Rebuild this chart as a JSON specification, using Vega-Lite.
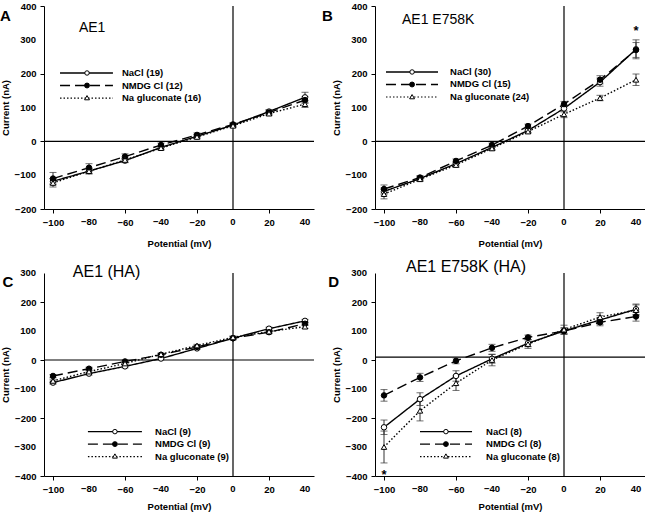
{
  "$schema": "https://vega.github.io/schema/vega-lite/v6.json",
  "autosize": {"type": "none"},
  "padding": {"left": 44, "top": 6, "right": 601, "bottom": 507},
  "config": {
    "font": "Liberation Sans",
    "view": {"stroke": null},
    "axis": {"domainColor": "black", "tickColor": "black", "labelColor": "black", "titleColor": "black", "labelFont": "Liberation Sans", "titleFont": "Liberation Sans", "labelFontSize": 9.5, "titleFontSize": 9.5, "labelFontWeight": "bold", "titleFontWeight": "bold", "grid": false, "tickSize": 4, "labelPadding": 4, "domainWidth": 1, "tickWidth": 1, "labelOverlap": false, "labelSeparation": -60, "labelFlush": false},
    "axisQuantitative": {"labelOverlap": false, "labelSeparation": -60},
    "text": {"color": "black", "font": "Liberation Sans"}
  },
  "datasets": {
    "iv": [
      {"p": "A", "s": "NaCl", "Potential (mV)": -100, "Current (nA)": -118, "e": 8}, {"p": "A", "s": "NaCl", "Potential (mV)": -80, "Current (nA)": -88, "e": 8}, {"p": "A", "s": "NaCl", "Potential (mV)": -60, "Current (nA)": -57, "e": 6}, {"p": "A", "s": "NaCl", "Potential (mV)": -40, "Current (nA)": -18, "e": 5}, {"p": "A", "s": "NaCl", "Potential (mV)": -20, "Current (nA)": 15, "e": 5}, {"p": "A", "s": "NaCl", "Potential (mV)": 0, "Current (nA)": 48, "e": 5}, {"p": "A", "s": "NaCl", "Potential (mV)": 20, "Current (nA)": 88, "e": 6}, {"p": "A", "s": "NaCl", "Potential (mV)": 40, "Current (nA)": 130, "e": 15},
      {"p": "A", "s": "NMDG Cl", "Potential (mV)": -100, "Current (nA)": -110, "e": 18}, {"p": "A", "s": "NMDG Cl", "Potential (mV)": -80, "Current (nA)": -78, "e": 12}, {"p": "A", "s": "NMDG Cl", "Potential (mV)": -60, "Current (nA)": -45, "e": 8}, {"p": "A", "s": "NMDG Cl", "Potential (mV)": -40, "Current (nA)": -11, "e": 6}, {"p": "A", "s": "NMDG Cl", "Potential (mV)": -20, "Current (nA)": 19, "e": 6}, {"p": "A", "s": "NMDG Cl", "Potential (mV)": 0, "Current (nA)": 50, "e": 5}, {"p": "A", "s": "NMDG Cl", "Potential (mV)": 20, "Current (nA)": 85, "e": 6}, {"p": "A", "s": "NMDG Cl", "Potential (mV)": 40, "Current (nA)": 122, "e": 10},
      {"p": "A", "s": "Na gluconate", "Potential (mV)": -100, "Current (nA)": -123, "e": 12}, {"p": "A", "s": "Na gluconate", "Potential (mV)": -80, "Current (nA)": -88, "e": 8}, {"p": "A", "s": "Na gluconate", "Potential (mV)": -60, "Current (nA)": -55, "e": 6}, {"p": "A", "s": "Na gluconate", "Potential (mV)": -40, "Current (nA)": -20, "e": 5}, {"p": "A", "s": "Na gluconate", "Potential (mV)": -20, "Current (nA)": 13, "e": 5}, {"p": "A", "s": "Na gluconate", "Potential (mV)": 0, "Current (nA)": 46, "e": 5}, {"p": "A", "s": "Na gluconate", "Potential (mV)": 20, "Current (nA)": 82, "e": 6}, {"p": "A", "s": "Na gluconate", "Potential (mV)": 40, "Current (nA)": 110, "e": 10},

      {"p": "B", "s": "NaCl", "Potential (mV)": -100, "Current (nA)": -148, "e": 10}, {"p": "B", "s": "NaCl", "Potential (mV)": -80, "Current (nA)": -110, "e": 6}, {"p": "B", "s": "NaCl", "Potential (mV)": -60, "Current (nA)": -66, "e": 6}, {"p": "B", "s": "NaCl", "Potential (mV)": -40, "Current (nA)": -18, "e": 6}, {"p": "B", "s": "NaCl", "Potential (mV)": -20, "Current (nA)": 32, "e": 6}, {"p": "B", "s": "NaCl", "Potential (mV)": 0, "Current (nA)": 97, "e": 10}, {"p": "B", "s": "NaCl", "Potential (mV)": 20, "Current (nA)": 175, "e": 12}, {"p": "B", "s": "NaCl", "Potential (mV)": 40, "Current (nA)": 272, "e": 28},
      {"p": "B", "s": "NMDG Cl", "Potential (mV)": -100, "Current (nA)": -141, "e": 12}, {"p": "B", "s": "NMDG Cl", "Potential (mV)": -80, "Current (nA)": -107, "e": 6}, {"p": "B", "s": "NMDG Cl", "Potential (mV)": -60, "Current (nA)": -58, "e": 6}, {"p": "B", "s": "NMDG Cl", "Potential (mV)": -40, "Current (nA)": -11, "e": 6}, {"p": "B", "s": "NMDG Cl", "Potential (mV)": -20, "Current (nA)": 45, "e": 6}, {"p": "B", "s": "NMDG Cl", "Potential (mV)": 0, "Current (nA)": 110, "e": 8}, {"p": "B", "s": "NMDG Cl", "Potential (mV)": 20, "Current (nA)": 182, "e": 12}, {"p": "B", "s": "NMDG Cl", "Potential (mV)": 40, "Current (nA)": 270, "e": 22},
      {"p": "B", "s": "Na gluconate", "Potential (mV)": -100, "Current (nA)": -156, "e": 14}, {"p": "B", "s": "Na gluconate", "Potential (mV)": -80, "Current (nA)": -112, "e": 6}, {"p": "B", "s": "Na gluconate", "Potential (mV)": -60, "Current (nA)": -70, "e": 6}, {"p": "B", "s": "Na gluconate", "Potential (mV)": -40, "Current (nA)": -21, "e": 6}, {"p": "B", "s": "Na gluconate", "Potential (mV)": -20, "Current (nA)": 29, "e": 5}, {"p": "B", "s": "Na gluconate", "Potential (mV)": 0, "Current (nA)": 80, "e": 10}, {"p": "B", "s": "Na gluconate", "Potential (mV)": 20, "Current (nA)": 128, "e": 8}, {"p": "B", "s": "Na gluconate", "Potential (mV)": 40, "Current (nA)": 182, "e": 17},

      {"p": "C", "s": "NaCl", "Potential (mV)": -100, "Current (nA)": -78, "e": 5}, {"p": "C", "s": "NaCl", "Potential (mV)": -80, "Current (nA)": -47, "e": 5}, {"p": "C", "s": "NaCl", "Potential (mV)": -60, "Current (nA)": -22, "e": 5}, {"p": "C", "s": "NaCl", "Potential (mV)": -40, "Current (nA)": 5, "e": 4}, {"p": "C", "s": "NaCl", "Potential (mV)": -20, "Current (nA)": 40, "e": 4}, {"p": "C", "s": "NaCl", "Potential (mV)": 0, "Current (nA)": 75, "e": 5}, {"p": "C", "s": "NaCl", "Potential (mV)": 20, "Current (nA)": 108, "e": 5}, {"p": "C", "s": "NaCl", "Potential (mV)": 40, "Current (nA)": 135, "e": 5},
      {"p": "C", "s": "NMDG Cl", "Potential (mV)": -100, "Current (nA)": -55, "e": 5}, {"p": "C", "s": "NMDG Cl", "Potential (mV)": -80, "Current (nA)": -30, "e": 5}, {"p": "C", "s": "NMDG Cl", "Potential (mV)": -60, "Current (nA)": -5, "e": 4}, {"p": "C", "s": "NMDG Cl", "Potential (mV)": -40, "Current (nA)": 18, "e": 4}, {"p": "C", "s": "NMDG Cl", "Potential (mV)": -20, "Current (nA)": 45, "e": 4}, {"p": "C", "s": "NMDG Cl", "Potential (mV)": 0, "Current (nA)": 75, "e": 5}, {"p": "C", "s": "NMDG Cl", "Potential (mV)": 20, "Current (nA)": 96, "e": 5}, {"p": "C", "s": "NMDG Cl", "Potential (mV)": 40, "Current (nA)": 125, "e": 5},
      {"p": "C", "s": "Na gluconate", "Potential (mV)": -100, "Current (nA)": -72, "e": 6}, {"p": "C", "s": "Na gluconate", "Potential (mV)": -80, "Current (nA)": -40, "e": 5}, {"p": "C", "s": "Na gluconate", "Potential (mV)": -60, "Current (nA)": -12, "e": 5}, {"p": "C", "s": "Na gluconate", "Potential (mV)": -40, "Current (nA)": 20, "e": 4}, {"p": "C", "s": "Na gluconate", "Potential (mV)": -20, "Current (nA)": 50, "e": 4}, {"p": "C", "s": "Na gluconate", "Potential (mV)": 0, "Current (nA)": 78, "e": 5}, {"p": "C", "s": "Na gluconate", "Potential (mV)": 20, "Current (nA)": 98, "e": 5}, {"p": "C", "s": "Na gluconate", "Potential (mV)": 40, "Current (nA)": 115, "e": 6},

      {"p": "D", "s": "NaCl", "Potential (mV)": -100, "Current (nA)": -232, "e": 25}, {"p": "D", "s": "NaCl", "Potential (mV)": -80, "Current (nA)": -135, "e": 22}, {"p": "D", "s": "NaCl", "Potential (mV)": -60, "Current (nA)": -55, "e": 18}, {"p": "D", "s": "NaCl", "Potential (mV)": -40, "Current (nA)": 4, "e": 15}, {"p": "D", "s": "NaCl", "Potential (mV)": -20, "Current (nA)": 58, "e": 12}, {"p": "D", "s": "NaCl", "Potential (mV)": 0, "Current (nA)": 100, "e": 12}, {"p": "D", "s": "NaCl", "Potential (mV)": 20, "Current (nA)": 138, "e": 15}, {"p": "D", "s": "NaCl", "Potential (mV)": 40, "Current (nA)": 175, "e": 18},
      {"p": "D", "s": "NMDG Cl", "Potential (mV)": -100, "Current (nA)": -122, "e": 20}, {"p": "D", "s": "NMDG Cl", "Potential (mV)": -80, "Current (nA)": -60, "e": 14}, {"p": "D", "s": "NMDG Cl", "Potential (mV)": -60, "Current (nA)": -3, "e": 10}, {"p": "D", "s": "NMDG Cl", "Potential (mV)": -40, "Current (nA)": 42, "e": 12}, {"p": "D", "s": "NMDG Cl", "Potential (mV)": -20, "Current (nA)": 78, "e": 8}, {"p": "D", "s": "NMDG Cl", "Potential (mV)": 0, "Current (nA)": 100, "e": 8}, {"p": "D", "s": "NMDG Cl", "Potential (mV)": 20, "Current (nA)": 130, "e": 12}, {"p": "D", "s": "NMDG Cl", "Potential (mV)": 40, "Current (nA)": 150, "e": 16},
      {"p": "D", "s": "Na gluconate", "Potential (mV)": -100, "Current (nA)": -300, "e": 55}, {"p": "D", "s": "Na gluconate", "Potential (mV)": -80, "Current (nA)": -175, "e": 35}, {"p": "D", "s": "Na gluconate", "Potential (mV)": -60, "Current (nA)": -80, "e": 25}, {"p": "D", "s": "Na gluconate", "Potential (mV)": -40, "Current (nA)": 0, "e": 20}, {"p": "D", "s": "Na gluconate", "Potential (mV)": -20, "Current (nA)": 55, "e": 15}, {"p": "D", "s": "Na gluconate", "Potential (mV)": 0, "Current (nA)": 105, "e": 15}, {"p": "D", "s": "Na gluconate", "Potential (mV)": 20, "Current (nA)": 148, "e": 15}, {"p": "D", "s": "Na gluconate", "Potential (mV)": 40, "Current (nA)": 172, "e": 18}
    ],
    "xticks": [{"Potential (mV)": -80}, {"Potential (mV)": -40}, {"Potential (mV)": 0}, {"Potential (mV)": 40}],
    "yticksTop": [{"Current (nA)": 300}, {"Current (nA)": 100}, {"Current (nA)": -100}],
    "yticksBottom": [{"Current (nA)": 300}, {"Current (nA)": 100}, {"Current (nA)": -100}, {"Current (nA)": -300}]
  },
  "columns": 2,
  "bounds": "flush",
  "spacing": {"column": 61, "row": 64},
  "resolve": {"scale": {"x": "independent", "y": "independent", "strokeDash": "independent", "shape": "independent", "fill": "independent"}},
  "concat": [
    {
      "width": 270, "height": 203,
      "layer": [
        {"data": {"name": "iv"}, "transform": [{"filter": "datum.p == 'A'"}],
         "mark": {"type": "line", "color": "black", "strokeWidth": 1.4},
         "encoding": {
           "x": {"field": "Potential (mV)", "type": "quantitative", "scale": {"domain": [-105, 45], "nice": false, "zero": false}, "axis": {"values": [-100, -80, -60, -40, -20, 0, 20, 40], "titlePadding": 12, "labelOverlap": false, "labelSeparation": -60}},
           "y": {"field": "Current (nA)", "type": "quantitative", "scale": {"domain": [-200, 400], "nice": false, "zero": false}, "axis": {"values": [-200, -100, 0, 100, 200, 300, 400], "titlePadding": 4, "labelOverlap": false, "labelSeparation": -60}},
           "strokeDash": {"field": "s", "type": "nominal", "scale": {"domain": ["NaCl", "NMDG Cl", "Na gluconate"], "range": [[1, 0], [10, 5], [1.5, 2]]}, "legend": null}
         }},
        {"data": {"values": [{}]}, "mark": {"type": "rule", "color": "black", "strokeWidth": 1.2}, "encoding": {"y": {"datum": 0, "type": "quantitative"}}},
        {"data": {"values": [{}]}, "mark": {"type": "rule", "color": "black", "strokeWidth": 1.2}, "encoding": {"x": {"datum": 0, "type": "quantitative"}}},
        {"data": {"name": "iv"}, "transform": [{"filter": "datum.p == 'A'"}],
         "mark": {"type": "errorbar", "color": "#333", "ticks": {"size": 7}},
         "encoding": {"x": {"field": "Potential (mV)", "type": "quantitative"}, "y": {"field": "Current (nA)", "type": "quantitative"}, "yError": {"field": "e"}}},
        {"data": {"name": "iv"}, "transform": [{"filter": "datum.p == 'A'"}],
         "mark": {"type": "point", "filled": true, "stroke": "black", "strokeWidth": 1, "opacity": 1, "size": 30},
         "encoding": {"x": {"field": "Potential (mV)", "type": "quantitative"}, "y": {"field": "Current (nA)", "type": "quantitative"},
           "shape": {"field": "s", "type": "nominal", "scale": {"domain": ["NaCl", "NMDG Cl", "Na gluconate"], "range": ["circle", "circle", "triangle-up"]}, "legend": null},
           "fill": {"field": "s", "type": "nominal", "scale": {"domain": ["NaCl", "NMDG Cl", "Na gluconate"], "range": ["white", "black", "white"]}, "legend": null}}},
        {"data": {"name": "xticks"}, "mark": {"type": "text", "fontSize": 9.5, "fontWeight": "bold", "align": "center", "baseline": "top", "dy": 8}, "encoding": {"x": {"field": "Potential (mV)", "type": "quantitative"}, "y": {"datum": -200}, "text": {"field": "Potential (mV)", "type": "quantitative"}}},
        {"data": {"name": "yticksTop"}, "mark": {"type": "text", "fontSize": 9.5, "fontWeight": "bold", "align": "right", "baseline": "middle", "dx": -8}, "encoding": {"y": {"field": "Current (nA)", "type": "quantitative"}, "x": {"datum": -105}, "text": {"field": "Current (nA)", "type": "quantitative"}}},
        {"data": {"values": [{}]}, "mark": {"type": "rule", "color": "black", "strokeWidth": 1.4}, "encoding": {"x": {"datum": -96.1}, "x2": {"datum": -66.7}, "y": {"datum": 202}}},
        {"data": {"values": [{}]}, "mark": {"type": "rule", "color": "black", "strokeWidth": 1.4, "strokeDash": [10, 5]}, "encoding": {"x": {"datum": -96.1}, "x2": {"datum": -66.7}, "y": {"datum": 165}}},
        {"data": {"values": [{}]}, "mark": {"type": "rule", "color": "black", "strokeWidth": 1.2, "strokeDash": [1.5, 2]}, "encoding": {"x": {"datum": -96.1}, "x2": {"datum": -66.7}, "y": {"datum": 128}}},
        {"data": {"values": [{}]}, "mark": {"type": "point", "shape": "circle", "filled": true, "fill": "white", "stroke": "black", "strokeWidth": 1, "size": 20, "opacity": 1}, "encoding": {"x": {"datum": -81.1}, "y": {"datum": 202}}},
        {"data": {"values": [{}]}, "mark": {"type": "point", "shape": "circle", "filled": true, "fill": "black", "stroke": "black", "strokeWidth": 1, "size": 24, "opacity": 1}, "encoding": {"x": {"datum": -81.1}, "y": {"datum": 165}}},
        {"data": {"values": [{}]}, "mark": {"type": "point", "shape": "triangle-up", "filled": true, "fill": "white", "stroke": "black", "strokeWidth": 1, "size": 24, "opacity": 1}, "encoding": {"x": {"datum": -81.1}, "y": {"datum": 129}}},
        {"data": {"values": [{}]}, "mark": {"type": "text", "text": "NaCl (19)", "fontSize": 9.5, "fontWeight": "bold", "align": "left", "baseline": "middle"}, "encoding": {"x": {"datum": -61.7}, "y": {"datum": 202}}},
        {"data": {"values": [{}]}, "mark": {"type": "text", "text": "NMDG Cl (12)", "fontSize": 9.5, "fontWeight": "bold", "align": "left", "baseline": "middle"}, "encoding": {"x": {"datum": -61.7}, "y": {"datum": 165}}},
        {"data": {"values": [{}]}, "mark": {"type": "text", "text": "Na gluconate (16)", "fontSize": 9.5, "fontWeight": "bold", "align": "left", "baseline": "middle"}, "encoding": {"x": {"datum": -61.7}, "y": {"datum": 128}}},
        {"data": {"values": [{}]}, "mark": {"type": "text", "text": "A", "fontSize": 15, "fontWeight": "bold", "align": "left"}, "encoding": {"x": {"datum": -129.4}, "y": {"datum": 370}}},
        {"data": {"values": [{}]}, "mark": {"type": "text", "text": "AE1", "fontSize": 14, "align": "left"}, "encoding": {"x": {"datum": -85.6}, "y": {"datum": 335}}}
      ]
    },
    {
      "width": 270, "height": 203,
      "layer": [
        {"data": {"name": "iv"}, "transform": [{"filter": "datum.p == 'B'"}],
         "mark": {"type": "line", "color": "black", "strokeWidth": 1.4},
         "encoding": {
           "x": {"field": "Potential (mV)", "type": "quantitative", "scale": {"domain": [-105, 45], "nice": false, "zero": false}, "axis": {"values": [-100, -80, -60, -40, -20, 0, 20, 40], "titlePadding": 12, "labelOverlap": false, "labelSeparation": -60}},
           "y": {"field": "Current (nA)", "type": "quantitative", "scale": {"domain": [-200, 400], "nice": false, "zero": false}, "axis": {"values": [-200, -100, 0, 100, 200, 300, 400], "titlePadding": 4, "labelOverlap": false, "labelSeparation": -60}},
           "strokeDash": {"field": "s", "type": "nominal", "scale": {"domain": ["NaCl", "NMDG Cl", "Na gluconate"], "range": [[1, 0], [10, 5], [1.5, 2]]}, "legend": null}
         }},
        {"data": {"values": [{}]}, "mark": {"type": "rule", "color": "black", "strokeWidth": 1.2}, "encoding": {"y": {"datum": 0, "type": "quantitative"}}},
        {"data": {"values": [{}]}, "mark": {"type": "rule", "color": "black", "strokeWidth": 1.2}, "encoding": {"x": {"datum": 0, "type": "quantitative"}}},
        {"data": {"name": "iv"}, "transform": [{"filter": "datum.p == 'B'"}],
         "mark": {"type": "errorbar", "color": "#333", "ticks": {"size": 7}},
         "encoding": {"x": {"field": "Potential (mV)", "type": "quantitative"}, "y": {"field": "Current (nA)", "type": "quantitative"}, "yError": {"field": "e"}}},
        {"data": {"name": "iv"}, "transform": [{"filter": "datum.p == 'B'"}],
         "mark": {"type": "point", "filled": true, "stroke": "black", "strokeWidth": 1, "opacity": 1, "size": 30},
         "encoding": {"x": {"field": "Potential (mV)", "type": "quantitative"}, "y": {"field": "Current (nA)", "type": "quantitative"},
           "shape": {"field": "s", "type": "nominal", "scale": {"domain": ["NaCl", "NMDG Cl", "Na gluconate"], "range": ["circle", "circle", "triangle-up"]}, "legend": null},
           "fill": {"field": "s", "type": "nominal", "scale": {"domain": ["NaCl", "NMDG Cl", "Na gluconate"], "range": ["white", "black", "white"]}, "legend": null}}},
        {"data": {"name": "xticks"}, "mark": {"type": "text", "fontSize": 9.5, "fontWeight": "bold", "align": "center", "baseline": "top", "dy": 8}, "encoding": {"x": {"field": "Potential (mV)", "type": "quantitative"}, "y": {"datum": -200}, "text": {"field": "Potential (mV)", "type": "quantitative"}}},
        {"data": {"name": "yticksTop"}, "mark": {"type": "text", "fontSize": 9.5, "fontWeight": "bold", "align": "right", "baseline": "middle", "dx": -8}, "encoding": {"y": {"field": "Current (nA)", "type": "quantitative"}, "x": {"datum": -105}, "text": {"field": "Current (nA)", "type": "quantitative"}}},
        {"data": {"values": [{}]}, "mark": {"type": "rule", "color": "black", "strokeWidth": 1.4}, "encoding": {"x": {"datum": -98.9}, "x2": {"datum": -70}, "y": {"datum": 205}}},
        {"data": {"values": [{}]}, "mark": {"type": "rule", "color": "black", "strokeWidth": 1.4, "strokeDash": [10, 5]}, "encoding": {"x": {"datum": -98.9}, "x2": {"datum": -70}, "y": {"datum": 168}}},
        {"data": {"values": [{}]}, "mark": {"type": "rule", "color": "black", "strokeWidth": 1.2, "strokeDash": [1.5, 2]}, "encoding": {"x": {"datum": -98.9}, "x2": {"datum": -70}, "y": {"datum": 131}}},
        {"data": {"values": [{}]}, "mark": {"type": "point", "shape": "circle", "filled": true, "fill": "white", "stroke": "black", "strokeWidth": 1, "size": 20, "opacity": 1}, "encoding": {"x": {"datum": -84.4}, "y": {"datum": 205}}},
        {"data": {"values": [{}]}, "mark": {"type": "point", "shape": "circle", "filled": true, "fill": "black", "stroke": "black", "strokeWidth": 1, "size": 24, "opacity": 1}, "encoding": {"x": {"datum": -84.4}, "y": {"datum": 168}}},
        {"data": {"values": [{}]}, "mark": {"type": "point", "shape": "triangle-up", "filled": true, "fill": "white", "stroke": "black", "strokeWidth": 1, "size": 24, "opacity": 1}, "encoding": {"x": {"datum": -84.4}, "y": {"datum": 132}}},
        {"data": {"values": [{}]}, "mark": {"type": "text", "text": "NaCl (30)", "fontSize": 9.5, "fontWeight": "bold", "align": "left", "baseline": "middle"}, "encoding": {"x": {"datum": -63.3}, "y": {"datum": 205}}},
        {"data": {"values": [{}]}, "mark": {"type": "text", "text": "NMDG Cl (15)", "fontSize": 9.5, "fontWeight": "bold", "align": "left", "baseline": "middle"}, "encoding": {"x": {"datum": -63.3}, "y": {"datum": 168}}},
        {"data": {"values": [{}]}, "mark": {"type": "text", "text": "Na gluconate (24)", "fontSize": 9.5, "fontWeight": "bold", "align": "left", "baseline": "middle"}, "encoding": {"x": {"datum": -63.3}, "y": {"datum": 131}}},
        {"data": {"values": [{}]}, "mark": {"type": "text", "text": "B", "fontSize": 15, "fontWeight": "bold", "align": "left"}, "encoding": {"x": {"datum": -134.4}, "y": {"datum": 370}}},
        {"data": {"values": [{}]}, "mark": {"type": "text", "text": "AE1 E758K", "fontSize": 14, "align": "left"}, "encoding": {"x": {"datum": -90}, "y": {"datum": 358}}},
        {"data": {"values": [{}]}, "mark": {"type": "text", "text": "*", "fontSize": 13, "fontWeight": "bold", "align": "center"}, "encoding": {"x": {"datum": 40}, "y": {"datum": 325}}}
      ]
    },
    {
      "width": 270, "height": 203,
      "layer": [
        {"data": {"name": "iv"}, "transform": [{"filter": "datum.p == 'C'"}],
         "mark": {"type": "line", "color": "black", "strokeWidth": 1.4},
         "encoding": {
           "x": {"field": "Potential (mV)", "type": "quantitative", "scale": {"domain": [-105, 45], "nice": false, "zero": false}, "axis": {"values": [-100, -80, -60, -40, -20, 0, 20, 40], "titlePadding": 8, "labelOverlap": false, "labelSeparation": -60}},
           "y": {"field": "Current (nA)", "type": "quantitative", "scale": {"domain": [-400, 300], "nice": false, "zero": false}, "axis": {"values": [-400, -300, -200, -100, 0, 100, 200, 300], "titlePadding": 4, "labelOverlap": false, "labelSeparation": -60}},
           "strokeDash": {"field": "s", "type": "nominal", "scale": {"domain": ["NaCl", "NMDG Cl", "Na gluconate"], "range": [[1, 0], [10, 5], [1.5, 2]]}, "legend": null}
         }},
        {"data": {"values": [{}]}, "mark": {"type": "rule", "color": "black", "strokeWidth": 1.2}, "encoding": {"y": {"datum": 0, "type": "quantitative"}}},
        {"data": {"values": [{}]}, "mark": {"type": "rule", "color": "black", "strokeWidth": 1.2}, "encoding": {"x": {"datum": 0, "type": "quantitative"}}},
        {"data": {"name": "iv"}, "transform": [{"filter": "datum.p == 'C'"}],
         "mark": {"type": "errorbar", "color": "#333", "ticks": {"size": 7}},
         "encoding": {"x": {"field": "Potential (mV)", "type": "quantitative"}, "y": {"field": "Current (nA)", "type": "quantitative"}, "yError": {"field": "e"}}},
        {"data": {"name": "iv"}, "transform": [{"filter": "datum.p == 'C'"}],
         "mark": {"type": "point", "filled": true, "stroke": "black", "strokeWidth": 1, "opacity": 1, "size": 30},
         "encoding": {"x": {"field": "Potential (mV)", "type": "quantitative"}, "y": {"field": "Current (nA)", "type": "quantitative"},
           "shape": {"field": "s", "type": "nominal", "scale": {"domain": ["NaCl", "NMDG Cl", "Na gluconate"], "range": ["circle", "circle", "triangle-up"]}, "legend": null},
           "fill": {"field": "s", "type": "nominal", "scale": {"domain": ["NaCl", "NMDG Cl", "Na gluconate"], "range": ["white", "black", "white"]}, "legend": null}}},
        {"data": {"name": "xticks"}, "mark": {"type": "text", "fontSize": 9.5, "fontWeight": "bold", "align": "center", "baseline": "top", "dy": 8}, "encoding": {"x": {"field": "Potential (mV)", "type": "quantitative"}, "y": {"datum": -400}, "text": {"field": "Potential (mV)", "type": "quantitative"}}},
        {"data": {"name": "yticksBottom"}, "mark": {"type": "text", "fontSize": 9.5, "fontWeight": "bold", "align": "right", "baseline": "middle", "dx": -8}, "encoding": {"y": {"field": "Current (nA)", "type": "quantitative"}, "x": {"datum": -105}, "text": {"field": "Current (nA)", "type": "quantitative"}}},
        {"data": {"values": [{}]}, "mark": {"type": "rule", "color": "black", "strokeWidth": 1.4}, "encoding": {"x": {"datum": -80.6}, "x2": {"datum": -50.6}, "y": {"datum": -247}}},
        {"data": {"values": [{}]}, "mark": {"type": "rule", "color": "black", "strokeWidth": 1.4, "strokeDash": [10, 5]}, "encoding": {"x": {"datum": -80.6}, "x2": {"datum": -50.6}, "y": {"datum": -290}}},
        {"data": {"values": [{}]}, "mark": {"type": "rule", "color": "black", "strokeWidth": 1.2, "strokeDash": [1.5, 2]}, "encoding": {"x": {"datum": -80.6}, "x2": {"datum": -50.6}, "y": {"datum": -333}}},
        {"data": {"values": [{}]}, "mark": {"type": "point", "shape": "circle", "filled": true, "fill": "white", "stroke": "black", "strokeWidth": 1, "size": 20, "opacity": 1}, "encoding": {"x": {"datum": -65.6}, "y": {"datum": -247}}},
        {"data": {"values": [{}]}, "mark": {"type": "point", "shape": "circle", "filled": true, "fill": "black", "stroke": "black", "strokeWidth": 1, "size": 24, "opacity": 1}, "encoding": {"x": {"datum": -65.6}, "y": {"datum": -290}}},
        {"data": {"values": [{}]}, "mark": {"type": "point", "shape": "triangle-up", "filled": true, "fill": "white", "stroke": "black", "strokeWidth": 1, "size": 24, "opacity": 1}, "encoding": {"x": {"datum": -65.6}, "y": {"datum": -331}}},
        {"data": {"values": [{}]}, "mark": {"type": "text", "text": "NaCl (9)", "fontSize": 9.5, "fontWeight": "bold", "align": "left", "baseline": "middle"}, "encoding": {"x": {"datum": -43.3}, "y": {"datum": -247}}},
        {"data": {"values": [{}]}, "mark": {"type": "text", "text": "NMDG Cl (9)", "fontSize": 9.5, "fontWeight": "bold", "align": "left", "baseline": "middle"}, "encoding": {"x": {"datum": -43.3}, "y": {"datum": -290}}},
        {"data": {"values": [{}]}, "mark": {"type": "text", "text": "Na gluconate (9)", "fontSize": 9.5, "fontWeight": "bold", "align": "left", "baseline": "middle"}, "encoding": {"x": {"datum": -43.3}, "y": {"datum": -333}}},
        {"data": {"values": [{}]}, "mark": {"type": "text", "text": "C", "fontSize": 15, "fontWeight": "bold", "align": "left"}, "encoding": {"x": {"datum": -128}, "y": {"datum": 269}}},
        {"data": {"values": [{}]}, "mark": {"type": "text", "text": "AE1 (HA)", "fontSize": 16, "align": "left"}, "encoding": {"x": {"datum": -89}, "y": {"datum": 303}}}
      ]
    },
    {
      "width": 270, "height": 203,
      "layer": [
        {"data": {"name": "iv"}, "transform": [{"filter": "datum.p == 'D'"}],
         "mark": {"type": "line", "color": "black", "strokeWidth": 1.4},
         "encoding": {
           "x": {"field": "Potential (mV)", "type": "quantitative", "scale": {"domain": [-105, 45], "nice": false, "zero": false}, "axis": {"values": [-100, -80, -60, -40, -20, 0, 20, 40], "titlePadding": 8, "labelOverlap": false, "labelSeparation": -60}},
           "y": {"field": "Current (nA)", "type": "quantitative", "scale": {"domain": [-400, 300], "nice": false, "zero": false}, "axis": {"values": [-400, -300, -200, -100, 0, 100, 200, 300], "titlePadding": 4, "labelOverlap": false, "labelSeparation": -60}},
           "strokeDash": {"field": "s", "type": "nominal", "scale": {"domain": ["NaCl", "NMDG Cl", "Na gluconate"], "range": [[1, 0], [10, 5], [1.5, 2]]}, "legend": null}
         }},
        {"data": {"values": [{}]}, "mark": {"type": "rule", "color": "black", "strokeWidth": 1.2}, "encoding": {"y": {"datum": 10, "type": "quantitative"}}},
        {"data": {"values": [{}]}, "mark": {"type": "rule", "color": "black", "strokeWidth": 1.2}, "encoding": {"x": {"datum": 0, "type": "quantitative"}}},
        {"data": {"name": "iv"}, "transform": [{"filter": "datum.p == 'D'"}],
         "mark": {"type": "errorbar", "color": "#333", "ticks": {"size": 7}},
         "encoding": {"x": {"field": "Potential (mV)", "type": "quantitative"}, "y": {"field": "Current (nA)", "type": "quantitative"}, "yError": {"field": "e"}}},
        {"data": {"name": "iv"}, "transform": [{"filter": "datum.p == 'D'"}],
         "mark": {"type": "point", "filled": true, "stroke": "black", "strokeWidth": 1, "opacity": 1, "size": 30},
         "encoding": {"x": {"field": "Potential (mV)", "type": "quantitative"}, "y": {"field": "Current (nA)", "type": "quantitative"},
           "shape": {"field": "s", "type": "nominal", "scale": {"domain": ["NaCl", "NMDG Cl", "Na gluconate"], "range": ["circle", "circle", "triangle-up"]}, "legend": null},
           "fill": {"field": "s", "type": "nominal", "scale": {"domain": ["NaCl", "NMDG Cl", "Na gluconate"], "range": ["white", "black", "white"]}, "legend": null}}},
        {"data": {"name": "xticks"}, "mark": {"type": "text", "fontSize": 9.5, "fontWeight": "bold", "align": "center", "baseline": "top", "dy": 8}, "encoding": {"x": {"field": "Potential (mV)", "type": "quantitative"}, "y": {"datum": -400}, "text": {"field": "Potential (mV)", "type": "quantitative"}}},
        {"data": {"name": "yticksBottom"}, "mark": {"type": "text", "fontSize": 9.5, "fontWeight": "bold", "align": "right", "baseline": "middle", "dx": -8}, "encoding": {"y": {"field": "Current (nA)", "type": "quantitative"}, "x": {"datum": -105}, "text": {"field": "Current (nA)", "type": "quantitative"}}},
        {"data": {"values": [{}]}, "mark": {"type": "rule", "color": "black", "strokeWidth": 1.4}, "encoding": {"x": {"datum": -80}, "x2": {"datum": -51.1}, "y": {"datum": -247}}},
        {"data": {"values": [{}]}, "mark": {"type": "rule", "color": "black", "strokeWidth": 1.4, "strokeDash": [10, 5]}, "encoding": {"x": {"datum": -80}, "x2": {"datum": -51.1}, "y": {"datum": -290}}},
        {"data": {"values": [{}]}, "mark": {"type": "rule", "color": "black", "strokeWidth": 1.2, "strokeDash": [1.5, 2]}, "encoding": {"x": {"datum": -80}, "x2": {"datum": -51.1}, "y": {"datum": -333}}},
        {"data": {"values": [{}]}, "mark": {"type": "point", "shape": "circle", "filled": true, "fill": "white", "stroke": "black", "strokeWidth": 1, "size": 20, "opacity": 1}, "encoding": {"x": {"datum": -65.6}, "y": {"datum": -247}}},
        {"data": {"values": [{}]}, "mark": {"type": "point", "shape": "circle", "filled": true, "fill": "black", "stroke": "black", "strokeWidth": 1, "size": 24, "opacity": 1}, "encoding": {"x": {"datum": -65.6}, "y": {"datum": -290}}},
        {"data": {"values": [{}]}, "mark": {"type": "point", "shape": "triangle-up", "filled": true, "fill": "white", "stroke": "black", "strokeWidth": 1, "size": 24, "opacity": 1}, "encoding": {"x": {"datum": -65.6}, "y": {"datum": -331}}},
        {"data": {"values": [{}]}, "mark": {"type": "text", "text": "NaCl (8)", "fontSize": 9.5, "fontWeight": "bold", "align": "left", "baseline": "middle"}, "encoding": {"x": {"datum": -43.3}, "y": {"datum": -247}}},
        {"data": {"values": [{}]}, "mark": {"type": "text", "text": "NMDG Cl (8)", "fontSize": 9.5, "fontWeight": "bold", "align": "left", "baseline": "middle"}, "encoding": {"x": {"datum": -43.3}, "y": {"datum": -290}}},
        {"data": {"values": [{}]}, "mark": {"type": "text", "text": "Na gluconate (8)", "fontSize": 9.5, "fontWeight": "bold", "align": "left", "baseline": "middle"}, "encoding": {"x": {"datum": -43.3}, "y": {"datum": -333}}},
        {"data": {"values": [{}]}, "mark": {"type": "text", "text": "D", "fontSize": 15, "fontWeight": "bold", "align": "left"}, "encoding": {"x": {"datum": -131}, "y": {"datum": 269}}},
        {"data": {"values": [{}]}, "mark": {"type": "text", "text": "AE1 E758K (HA)", "fontSize": 16, "align": "left"}, "encoding": {"x": {"datum": -87.8}, "y": {"datum": 320}}},
        {"data": {"values": [{}]}, "mark": {"type": "text", "text": "*", "fontSize": 13, "fontWeight": "bold", "align": "center"}, "encoding": {"x": {"datum": -100}, "y": {"datum": -396}}}
      ]
    }
  ]
}
